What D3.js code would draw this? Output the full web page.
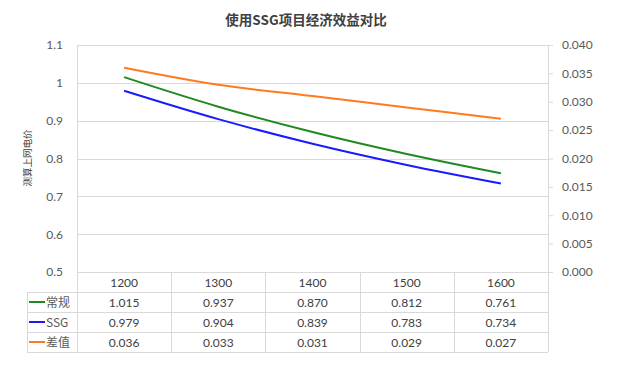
<!DOCTYPE html>
<html><head><meta charset="utf-8">
<script src="https://cdn.jsdelivr.net/npm/d3@7"></script>
<style>body{margin:0;background:#fff}svg{display:block}</style>
</head><body>
<script>
const categories = ["1200","1300","1400","1500","1600"];
const seriesNames = ["常规","SSG","差值"];
const normalVals = [1.015,0.937,0.870,0.812,0.761];
const ssgVals = [0.979,0.904,0.839,0.783,0.734];
const diffVals = [0.036,0.033,0.031,0.029,0.027];
const leftTicks = [0.5,0.6,0.7,0.8,0.9,1.0,1.1];
const rightTicks = [0,0.005,0.01,0.015,0.02,0.025,0.03,0.035,0.04];
const colors = ["#1f8a1f","#1a1aff","#ff7a1f"];

const W=620,H=389;
const L=77,R=548,T=45,B=272;
const rowH=20;
const font='"Noto Sans CJK SC","Noto Sans",sans-serif';
const numFont='Lato,"Noto Sans CJK SC",sans-serif';
const svg=d3.select("body").append("svg").attr("width",W).attr("height",H).style("font-family",font);

const x=d3.scaleBand().domain(categories).range([L,R]).padding(0);
const yL=d3.scaleLinear().domain([0.5,1.1]).range([B,T]);
const yR=d3.scaleLinear().domain([0,0.04]).range([B,T]);
const grid="#d9d9d9";

// title
svg.append("text").attr("x",306).attr("y",25).attr("text-anchor","middle")
  .attr("font-size",13.5).attr("font-weight","bold").attr("fill","#404040").text("使用SSG项目经济效益对比");

// gridlines
svg.append("g").selectAll("line").data(leftTicks).join("line")
  .attr("x1",L).attr("x2",R).attr("y1",d=>Math.round(yL(d))+0.5).attr("y2",d=>Math.round(yL(d))+0.5)
  .attr("stroke",grid);
svg.append("line").attr("x1",L+0.5).attr("x2",L+0.5).attr("y1",T).attr("y2",B+rowH*4).attr("stroke",grid);
svg.append("line").attr("x1",R+0.5).attr("x2",R+0.5).attr("y1",T).attr("y2",B+rowH*4).attr("stroke",grid);

// left axis
const gl=svg.append("g").attr("transform",`translate(${L},0)`)
  .call(d3.axisLeft(yL).tickValues(leftTicks).tickSize(0).tickPadding(14).tickFormat(d=>String(+d.toFixed(1))));
gl.select(".domain").remove();
gl.selectAll("text").attr("font-size",12).attr("fill","#595959").attr("font-family",numFont);

// right axis
const gr=svg.append("g").attr("transform",`translate(${R},0)`)
  .call(d3.axisRight(yR).tickValues(rightTicks).tickSize(5).tickPadding(9).tickFormat(d3.format(".3f")));
gr.select(".domain").remove();
gr.selectAll("line").attr("stroke",grid);
gr.selectAll("text").attr("font-size",12).attr("fill","#595959").attr("font-family",numFont);

// axis title
svg.append("text").attr("transform","translate(31,158) rotate(-90)").attr("text-anchor","middle")
  .attr("font-size",9.5).attr("fill","#404040").text("测算上网电价");

// lines
const cx=d=>x(d)+x.bandwidth()/2;
const mk=(vals,ys)=>d3.line().x((v,i)=>cx(categories[i])).y(v=>ys(v)).curve(d3.curveCatmullRom.alpha(0.5))(vals);
const allSeries=[[normalVals,yL],[ssgVals,yL],[diffVals,yR]];
svg.append("g").selectAll("path").data(allSeries).join("path")
  .attr("d",d=>mk(d[0],d[1])).attr("fill","none").attr("stroke",(d,i)=>colors[i]).attr("stroke-width",2);

// table
const tg=svg.append("g");
for(let r=1;r<=4;r++){
  const yy=B+r*rowH+0.5;
  tg.append("line").attr("x1",27).attr("x2",R).attr("y1",yy).attr("y2",yy).attr("stroke",grid);
}
tg.append("line").attr("x1",27.5).attr("x2",27.5).attr("y1",B+rowH).attr("y2",B+rowH*4).attr("stroke",grid);
tg.selectAll(".vl").data(categories.slice(1)).join("line")
  .attr("x1",d=>Math.round(x(d))+0.5).attr("x2",d=>Math.round(x(d))+0.5).attr("y1",B).attr("y2",B+rowH*4).attr("stroke",grid);
tg.selectAll(".hd").data(categories).join("text").attr("x",d=>cx(d)).attr("y",B+rowH/2+4.5)
  .attr("text-anchor","middle").attr("font-size",12).attr("font-family",numFont).attr("fill","#404040").text(d=>d);
const rows=[normalVals,ssgVals,diffVals];
rows.forEach((vals,r)=>{
  const yy=B+(r+1)*rowH+rowH/2+4.5;
  tg.append("g").selectAll("text").data(vals).join("text").attr("x",(v,i)=>cx(categories[i])).attr("y",yy)
    .attr("text-anchor","middle").attr("font-size",12).attr("font-family",numFont).attr("fill","#404040").text(v=>d3.format(".3f")(v));
  tg.append("line").attr("x1",29).attr("x2",45).attr("y1",yy-4.5).attr("y2",yy-4.5).attr("stroke",colors[r]).attr("stroke-width",2);
  tg.append("text").attr("x",46).attr("y",yy).attr("font-size",12).attr("fill","#595959").text(seriesNames[r]);
});
</script>
</body></html>
